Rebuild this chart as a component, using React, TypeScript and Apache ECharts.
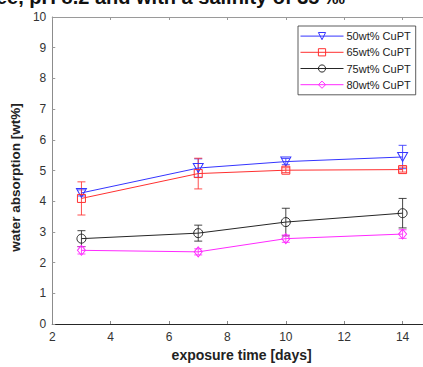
import React, { useEffect, useRef } from "react";
import * as echarts from "echarts";

// exposure time [days]
const days = [3, 7, 10, 14];

// water absorption [wt%] means and error half-widths per CuPT loading
const cupt50 = [4.27, 5.08, 5.29, 5.44];
const cupt50Err = [0.1, 0.3, 0.1, 0.38];
const cupt65 = [4.09, 4.9, 5.01, 5.03];
const cupt65Err = [0.54, 0.5, 0.08, 0.08];
const cupt75 = [2.78, 2.96, 3.32, 3.61];
const cupt75Err = [0.26, 0.26, 0.45, 0.48];
const cupt80 = [2.4, 2.35, 2.78, 2.93];
const cupt80Err = [0.12, 0.1, 0.12, 0.14];

const seriesNames = ["50wt% CuPT", "65wt% CuPT", "75wt% CuPT", "80wt% CuPT"];
const xTickLabels = [2, 4, 6, 8, 10, 12, 14];

const FONT = "'Liberation Sans', Arial, sans-serif";

const defs = [
  { name: seriesNames[0], values: cupt50, errs: cupt50Err, color: "#3535ff", symbol: "path://M0,0 L10,0 L5,9 Z", size: [10, 9] },
  { name: seriesNames[1], values: cupt65, errs: cupt65Err, color: "#ff3030", symbol: "rect", size: 8 },
  { name: seriesNames[2], values: cupt75, errs: cupt75Err, color: "#262626", symbol: "circle", size: 9 },
  { name: seriesNames[3], values: cupt80, errs: cupt80Err, color: "#ff2aff", symbol: "diamond", size: [8, 10] },
];

export default function App() {
  const ref = useRef<HTMLDivElement>(null);

  useEffect(() => {
    if (!ref.current) return;
    const chart = echarts.init(ref.current, null, { renderer: "svg" });

    const lineSeries = defs.map((d) => ({
      name: d.name,
      type: "line",
      data: days.map((x, i) => [x, d.values[i]]),
      symbol: d.symbol,
      symbolSize: d.size,
      showAllSymbol: true,
      lineStyle: { color: d.color, width: 1 },
      itemStyle: { color: "none", borderColor: d.color, borderWidth: 1 },
      z: 3,
    }));

    const errorSeries = defs.map((d) => ({
      name: d.name + " err",
      type: "custom",
      silent: true,
      z: 2,
      data: days.map((x, i) => [x, d.values[i] - d.errs[i], d.values[i] + d.errs[i]]),
      encode: { x: 0, y: [1, 2] },
      renderItem: (_params: any, api: any) => {
        const x = api.value(0);
        const lo = api.coord([x, api.value(1)]);
        const hi = api.coord([x, api.value(2)]);
        const w = 4;
        const style = { stroke: d.color, lineWidth: 1, opacity: 0.85 };
        return {
          type: "group",
          children: [
            { type: "line", shape: { x1: hi[0], y1: hi[1], x2: lo[0], y2: lo[1] }, style },
            { type: "line", shape: { x1: hi[0] - w, y1: hi[1], x2: hi[0] + w, y2: hi[1] }, style },
            { type: "line", shape: { x1: lo[0] - w, y1: lo[1], x2: lo[0] + w, y2: lo[1] }, style },
          ],
        };
      },
    }));

    chart.setOption({
      animation: false,
      backgroundColor: "#ffffff",
      textStyle: { fontFamily: FONT },
      grid: { left: 50.7, top: 17, bottom: 42, right: 19, containLabel: false },
      legend: {
        data: seriesNames,
        orient: "vertical",
        left: 298,
        top: 26,
        itemWidth: 43,
        itemHeight: 9,
        itemGap: 4,
        padding: [4, 5, 4, 2],
        borderColor: "#333",
        borderWidth: 0.8,
        backgroundColor: "#fff",
        lineStyle: { width: 1 },
        itemStyle: { borderWidth: 1 },
        textStyle: { fontSize: 11, color: "#222", fontFamily: FONT, padding: [0, 0, 0, -2] },
      },
      xAxis: [
        {
          type: "value",
          min: 2,
          max: 16,
          interval: 2,
          name: "exposure time [days]",
          nameLocation: "middle",
          nameGap: 24,
          nameTextStyle: { fontSize: 14, fontWeight: "bold", color: "#222", padding: [0, 30, 0, 0] },
          axisLine: { lineStyle: { color: "#262626", width: 1 } },
          axisTick: { inside: true, length: 3, lineStyle: { color: "#888" } },
          axisLabel: {
            fontSize: 12,
            color: "#333",
            margin: 7,
            formatter: (v: number) => (xTickLabels.includes(v) ? String(v) : ""),
          },
          splitLine: { show: false },
        },
        {
          type: "value",
          position: "top",
          min: 2,
          max: 16,
          interval: 2,
          axisLine: { lineStyle: { color: "#9a9a9a", width: 1 } },
          axisTick: { inside: true, length: 3, lineStyle: { color: "#999" } },
          axisLabel: { show: false },
          splitLine: { show: false },
        },
      ],
      yAxis: [
        {
          type: "value",
          min: 0,
          max: 10,
          interval: 1,
          name: "water absorption [wt%]",
          nameLocation: "middle",
          nameGap: 28,
          nameTextStyle: { fontSize: 13.5, fontWeight: "bold", color: "#222", padding: [0, 0, 0, -14] },
          axisLine: { show: true, lineStyle: { color: "#8c8c8c", width: 1 } },
          axisTick: { show: true, inside: true, length: 3, lineStyle: { color: "#999" } },
          axisLabel: { fontSize: 12, color: "#333", margin: 6 },
          splitLine: { show: false },
        },
      ],
      graphic: [
        {
          type: "text",
          left: -4,
          top: -13,
          style: {
            text: "ee, pH 8.2 and with a salinity of 35 ‰",
            font: "bold 20px " + FONT,
            fill: "#111",
          },
        },
      ],
      series: [...errorSeries, ...lineSeries],
    });

    return () => chart.dispose();
  }, []);

  return (
    <div style={{ position: "absolute", left: 0, top: 0, width: 423, height: 367, overflow: "hidden", background: "#fff" }}>
      <div ref={ref} style={{ width: 480, height: 367 }} />
    </div>
  );
}
